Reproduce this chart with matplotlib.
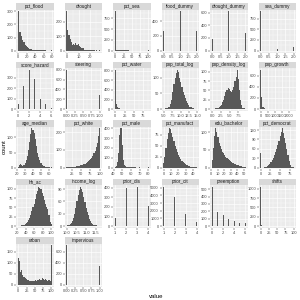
import numpy as np
import matplotlib
matplotlib.use('Agg')
import matplotlib.pyplot as plt
from matplotlib.patches import Rectangle
from matplotlib.ticker import AutoMinorLocator, FixedLocator

plt.rcParams['font.family'] = ['Liberation Sans', 'DejaVu Sans']

# continuous variables: 30 histogram counts, bins centred from lo to hi
pct_flood = [300, 140, 145, 115, 80, 65, 45, 35, 25, 20, 15, 12, 10, 8, 6,
             5, 4, 3, 3, 2, 2, 1, 1, 1, 1, 0, 0, 0, 0, 1]
drought = [270, 140, 110, 80, 60, 40, 45, 40, 50, 35, 45, 30, 22, 20, 18,
           20, 6, 4, 3, 3, 2, 2, 1, 1, 1, 0, 1, 0, 0, 1]
pct_sea = [910, 18, 9, 7, 5, 4, 4, 3, 3, 2, 2, 2, 2, 1, 1,
           1, 1, 1, 1, 1, 1, 1, 1, 1, 1, 1, 1, 1, 1, 3]
pct_water = [820, 110, 50, 25, 15, 10, 8, 6, 5, 4, 3, 3, 2, 2, 2,
             1, 1, 1, 1, 1, 1, 1, 1, 1, 1, 0, 0, 0, 0, 1]
pop_total_log = [1, 1, 2, 3, 5, 8, 15, 30, 55, 80, 100, 115, 125, 120, 100,
                 85, 70, 55, 45, 35, 25, 18, 12, 8, 5, 3, 2, 1, 1, 1]
pop_density_log = [1, 1, 1, 2, 3, 4, 5, 8, 12, 18, 25, 35, 45, 52, 57,
                   55, 48, 45, 50, 60, 75, 85, 105, 80, 50, 25, 10, 4, 2, 1]
pop_growth = [700, 210, 40, 15, 8, 5, 3, 3, 2, 2, 1, 1, 1, 1, 1,
              1, 0, 1, 0, 0, 0, 1, 0, 0, 0, 0, 0, 0, 0, 1]
age_median = [3, 8, 12, 10, 6, 8, 15, 25, 40, 60, 85, 110, 130, 125, 115,
              95, 70, 50, 35, 25, 15, 10, 6, 4, 3, 2, 1, 1, 0, 1]
pct_white = [1, 1, 1, 2, 2, 3, 3, 4, 5, 6, 8, 10, 12, 14, 16,
             18, 22, 26, 30, 35, 40, 48, 55, 65, 80, 95, 115, 140, 180, 220]
pct_male = [5, 20, 60, 150, 330, 400, 230, 80, 30, 12, 6, 4, 3, 2, 2,
            1, 1, 1, 1, 0, 0, 1, 0, 0, 0, 0, 0, 0, 0, 1]
pct_manufact = [10, 25, 45, 65, 80, 90, 88, 80, 70, 60, 50, 42, 35, 28, 25,
                20, 16, 13, 10, 8, 6, 5, 4, 3, 2, 2, 1, 1, 1, 2]
edu_bachelor = [20, 55, 90, 110, 100, 85, 70, 60, 52, 45, 40, 35, 30, 27, 24,
                21, 18, 15, 13, 12, 10, 8, 7, 6, 5, 4, 3, 2, 1, 1]
pct_democrat = [45, 0, 0, 1, 2, 3, 5, 8, 12, 18, 25, 32, 40, 50, 60,
                72, 85, 100, 115, 125, 110, 95, 80, 60, 40, 20, 8, 3, 1, 1]
hh_ac = [1, 1, 1, 2, 3, 4, 6, 8, 12, 16, 22, 30, 40, 50, 60,
         72, 85, 95, 105, 102, 100, 90, 80, 70, 60, 50, 45, 30, 10, 5]
income_log = [1, 2, 3, 5, 8, 12, 20, 30, 45, 60, 75, 88, 95, 90, 82,
              70, 58, 45, 35, 26, 18, 12, 8, 5, 3, 2, 2, 1, 1, 1]
shifts = [1050, 30, 8, 5, 3, 2, 2, 1, 1, 1, 1, 1, 1, 1, 1,
          1, 1, 1, 1, 1, 1, 1, 1, 1, 1, 0, 0, 0, 0, 2]
urban = [120, 110, 60, 65, 45, 35, 28, 25, 20, 22, 18, 15, 17, 18, 16,
         20, 17, 22, 20, 25, 22, 28, 25, 22, 25, 20, 18, 22, 15, 180]

# discrete variables: values and counts
flood_dummy_x, flood_dummy_n = [0, 1, 2], [270, 530, 270]
drought_dummy_x, drought_dummy_n = [0, 1, 2], [180, 620, 280]
sea_dummy_x, sea_dummy_n = [0, 1, 2], [920, 30, 90]
score_hazard_x, score_hazard_n = [0, 1, 2, 3, 4, 5, 6], [50, 220, 375, 290, 100, 50, 10]
steering_x, steering_n = [0, 1], [800, 290]
prior_dis_x, prior_dis_n = [1, 2, 3, 4], [80, 400, 410, 210]
prior_cit_x, prior_cit_n = [1, 2, 3, 4], [5100, 3800, 1600, 550]
preemption_x, preemption_n = [0, 1, 2, 3, 4, 5, 6], [530, 190, 150, 100, 75, 40, 40]
impervious_x, impervious_n = [0, 1], [720, 340]

# (name, data, x ticks, y ticks); continuous data = (lo, hi, counts)
panels = [
    ('pct_flood', (0, 78, pct_flood), [0, 20, 40, 60, 80], [0, 100, 200, 300]),
    ('drought', (0, 28, drought), [0, 10, 20], [0, 100, 200]),
    ('pct_sea', (0, 100, pct_sea), [0, 25, 50, 75, 100], [0, 250, 500, 750]),
    ('flood_dummy', (flood_dummy_x, flood_dummy_n), [0, 0.5, 1, 1.5, 2], [0, 200, 400]),
    ('drought_dummy', (drought_dummy_x, drought_dummy_n), [0, 0.5, 1, 1.5, 2], [0, 200, 400, 600]),
    ('sea_dummy', (sea_dummy_x, sea_dummy_n), [0, 0.5, 1, 1.5, 2], [0, 250, 500, 750]),
    ('score_hazard', (score_hazard_x, score_hazard_n), [0, 2, 4, 6], [0, 100, 200, 300]),
    ('steering', (steering_x, steering_n), [0, 0.25, 0.5, 0.75, 1], [0, 200, 400, 600, 800]),
    ('pct_water', (0, 88, pct_water), [0, 25, 50, 75], [0, 200, 400, 600, 800]),
    ('pop_total_log', (5.0, 14.8, pop_total_log), [5, 7.5, 10, 12.5, 15], [0, 50, 100]),
    ('pop_density_log', (0, 9.5, pop_density_log), [0, 2.5, 5, 7.5], [0, 25, 50, 75, 100]),
    ('pop_growth', (0, 2300, pop_growth), [0, 500, 1000, 1500, 2000], [0, 200, 400, 600]),
    ('age_median', (22, 63, age_median), [20, 30, 40, 50, 60], [0, 50, 100]),
    ('pct_white', (12, 100, pct_white), [25, 50, 75, 100], [0, 100, 200]),
    ('pct_male', (42, 80, pct_male), [40, 50, 60, 70, 80], [0, 100, 200, 300, 400]),
    ('pct_manufact', (0, 45, pct_manufact), [0, 10, 20, 30, 40], [0, 25, 50, 75]),
    ('edu_bachelor', (2, 52, edu_bachelor), [0, 10, 20, 30, 40, 50], [0, 50, 100]),
    ('pct_democrat', (0, 85, pct_democrat), [0, 25, 50, 75], [0, 30, 60, 90, 120]),
    ('hh_ac', (22, 100, hh_ac), [20, 40, 60, 80, 100], [0, 25, 50, 75, 100]),
    ('income_log', (10.0, 11.7, income_log), [10, 10.5, 11, 11.5], [0, 30, 60, 90]),
    ('prior_dis', (prior_dis_x, prior_dis_n), [1, 2, 3, 4], [0, 100, 200, 300, 400]),
    ('prior_cit', (prior_cit_x, prior_cit_n), [1, 2, 3, 4], [0, 1000, 2000, 3000, 4000, 5000]),
    ('preemption', (preemption_x, preemption_n), [0, 2, 4, 6], [0, 100, 200, 300, 400, 500]),
    ('shifts', (0, 100, shifts), [0, 25, 50, 75, 100], [0, 250, 500, 750, 1000]),
    ('urban', (0, 100, urban), [0, 25, 50, 75, 100], [0, 50, 100, 150]),
    ('impervious', (impervious_x, impervious_n), [0, 0.25, 0.5, 0.75, 1], [0, 200, 400, 600]),
]


def fmt_ticks(ticks):
    dec = 0
    for t in ticks:
        s = f'{t:g}'
        if '.' in s:
            dec = max(dec, len(s.split('.')[1]))
    return [f'{t:.{dec}f}' for t in ticks]


W = H = 300
fig = plt.figure(figsize=(3, 3), dpi=100)
col_left = [16, 64.5, 113, 161.5, 210, 258.5]
row_top = [3, 61.5, 120, 178.5, 237]
pw, ph, sh = 37.5, 43, 6.5

for i, (name, data, xt, yt) in enumerate(panels):
    r, c = divmod(i, 6)
    left = col_left[c] / W
    bottom = 1 - (row_top[r] + sh + ph) / H
    ax = fig.add_axes([left, bottom, pw / W, ph / H])
    ax.set_facecolor('#EBEBEB')

    if len(data) == 3:
        lo, hi, counts = data
        w = (hi - lo) / 29
        xs = np.linspace(lo, hi, 30)
        ns = counts
    else:
        xs, ns = data
        w = (max(xs) - min(xs)) / 29
    ax.bar(xs, ns, width=w, color='#595959', linewidth=0, zorder=2)

    ax.use_sticky_edges = False
    ax.margins(x=0.05, y=0.05)
    ax.xaxis.set_major_locator(FixedLocator(xt))
    ax.set_xticklabels(fmt_ticks(xt))
    ax.yaxis.set_major_locator(FixedLocator(yt))
    ax.set_yticklabels([str(v) for v in yt])
    ax.xaxis.set_minor_locator(AutoMinorLocator(2))
    ax.yaxis.set_minor_locator(AutoMinorLocator(2))
    ax.grid(which='major', color='white', linewidth=0.45, zorder=0)
    ax.grid(which='minor', color='white', linewidth=0.22, zorder=0)
    ax.set_axisbelow(True)
    for s in ax.spines.values():
        s.set_visible(False)
    ax.tick_params(which='major', length=1.3, width=0.35, color='#333333',
                   labelsize=2.9, labelcolor='#4D4D4D', pad=0.6)
    ax.tick_params(which='minor', length=0)

    # facet strip
    ax.add_patch(Rectangle((0, 1), 1, sh / ph, transform=ax.transAxes,
                           facecolor='#D9D9D9', edgecolor='none', clip_on=False))
    ax.text(0.5, 1 + sh / ph / 2, name, transform=ax.transAxes, ha='center',
            va='center', fontsize=3.3, color='#1A1A1A')

fig.text(156 / W, 1 - 296 / H, 'value', ha='center', va='center',
         fontsize=4.3, color='black')
fig.text(4 / W, 1 - 147 / H, 'count', ha='center', va='center',
         rotation=90, fontsize=4.3, color='black')

fig.savefig('out.png', dpi=100, facecolor='white')
